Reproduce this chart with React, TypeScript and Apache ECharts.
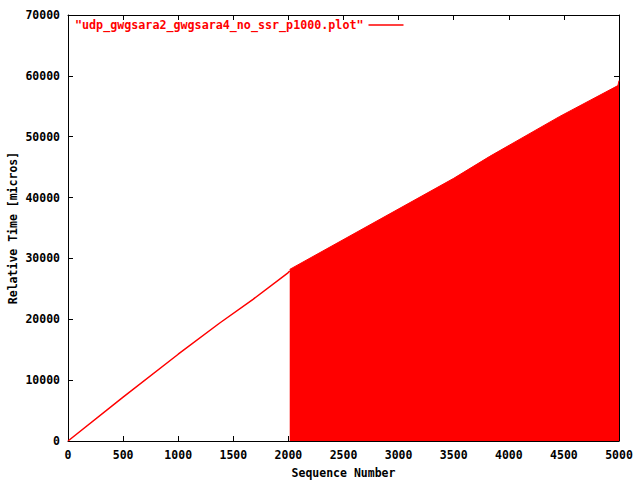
import React, { useEffect, useRef } from "react";
import * as echarts from "echarts";

const seriesName = '"udp_gwgsara2_gwgsara4_no_ssr_p1000.plot"';

// Part 1: thin line (sequence number vs relative time)
const seqA = [0, 500, 1000, 1377, 1679, 1996, 2012];
const timeA = [0, 7210, 14260, 19390, 23280, 27640, 27950];

// Part 2: dense region drawn filled down to zero
const seqB = [2012, 3500, 3827, 4462, 4990, 5000];
const timeB = [28200, 43160, 46770, 53330, 58400, 59230];

const xTicks = { min: 0, max: 5000, interval: 500 };
const yTicks = { min: 0, max: 70000, interval: 10000 };

const FONT = "'DejaVu Sans Mono', 'Liberation Mono', monospace";
const RED = "#ff0000";

export default function App() {
  const ref = useRef<HTMLDivElement>(null);
  useEffect(() => {
    if (!ref.current) return;
    const chart = echarts.init(ref.current, null, { renderer: "svg" });
    const labelStyle = {
      color: "#000",
      fontFamily: FONT,
      fontWeight: "bold" as const,
      fontSize: 11.5,
    };
    const plain = (v: number) => String(v);
    const axisCommon = {
      type: "value" as const,
      axisLine: { show: true, onZero: false, lineStyle: { color: "#000", width: 1 } },
      axisTick: { show: true, inside: true, length: 5, lineStyle: { color: "#000", width: 1 } },
      splitLine: { show: false },
    };
    chart.setOption({
      animation: false,
      backgroundColor: "#fff",
      grid: {
        left: 68,
        right: 21,
        top: 15,
        bottom: 39,
        containLabel: false,
        outerBoundsMode: "none",
      },
      legend: {
        left: 70,
        top: 14,
        align: "right",
        icon: "rect",
        itemWidth: 35,
        itemHeight: 1.5,
        textStyle: { color: RED, fontFamily: FONT, fontWeight: "bold", fontSize: 11.7 },
        data: [{ name: seriesName, itemStyle: { color: RED } }],
      },
      xAxis: [
        {
          ...axisCommon,
          position: "bottom",
          ...xTicks,
          axisLabel: { ...labelStyle, margin: 8, formatter: plain },
          name: "Sequence Number",
          nameLocation: "middle",
          nameGap: 26,
          nameMoveOverlap: false,
          nameTextStyle: labelStyle,
        },
        {
          ...axisCommon,
          position: "top",
          ...xTicks,
          axisLabel: { show: false },
        },
      ],
      yAxis: [
        {
          ...axisCommon,
          position: "left",
          ...yTicks,
          axisLabel: { ...labelStyle, margin: 8, formatter: plain },
          name: "Relative Time [micros]",
          nameLocation: "middle",
          nameGap: 49,
          nameRotate: 90,
          nameMoveOverlap: false,
          nameTextStyle: labelStyle,
        },
        {
          ...axisCommon,
          position: "right",
          ...yTicks,
          axisLabel: { show: false },
        },
      ],
      series: [
        {
          name: seriesName,
          type: "line",
          xAxisIndex: 0,
          yAxisIndex: 0,
          symbol: "none",
          lineStyle: { color: RED, width: 1.5 },
          itemStyle: { color: RED },
          data: seqA.map((s, i) => [s, timeA[i]]),
        },
        {
          name: seriesName,
          type: "line",
          xAxisIndex: 0,
          yAxisIndex: 0,
          symbol: "none",
          lineStyle: { color: RED, width: 1 },
          itemStyle: { color: RED },
          areaStyle: { color: RED, opacity: 1 },
          data: seqB.map((s, i) => [s, timeB[i]]),
        },
      ],
    });
    return () => chart.dispose();
  }, []);
  return (
    <div
      ref={ref}
      style={{ position: "fixed", left: 0, top: 0, width: 640, height: 480, background: "#fff" }}
    />
  );
}
